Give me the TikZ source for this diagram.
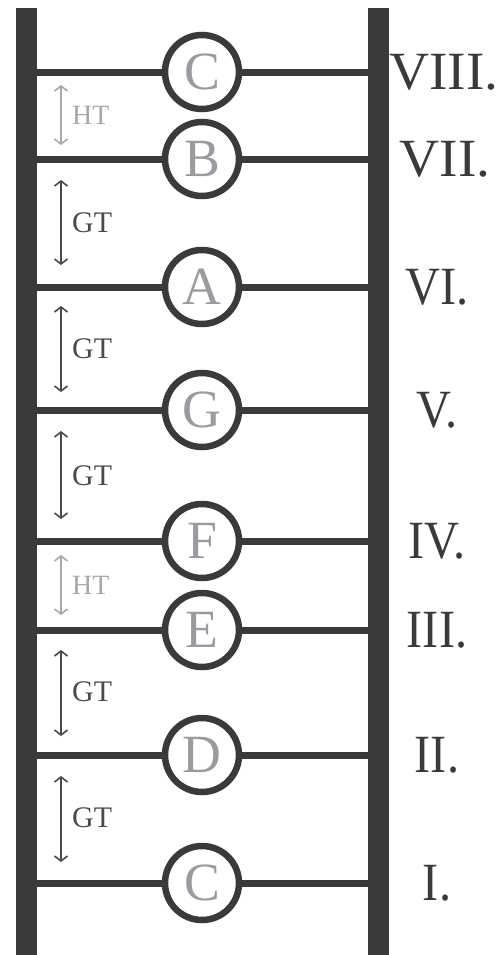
\documentclass[tikz,border=0pt]{standalone}
\usepackage{fontspec}
\setmainfont{Liberation Serif}
\usetikzlibrary{arrows.meta}
\definecolor{rail}{HTML}{3A3A3C}
\definecolor{lettergray}{HTML}{9A9B9E}
\definecolor{htgray}{HTML}{A8A8AA}
\definecolor{gtdark}{HTML}{4A4A4C}
\tikzset{
  railline/.style={draw=rail, line width=21bp},
  rungline/.style={draw=rail, line width=7bp},
  tone/.style={circle, draw=rail, fill=white, line width=6.5bp, minimum size=74bp, inner sep=0pt,
     text=lettergray, font=\fontsize{54}{54}\selectfont},
  numlabel/.style={text=rail, inner sep=0pt, font=\fontsize{54}{54}\selectfont},
  gtarrow/.style={draw=gtdark, line width=1.6bp, {Straight Barb[length=5bp,width=13bp]}-{Straight Barb[length=5bp,width=13bp]}},
  htarrow/.style={draw=htgray, line width=1.6bp, {Straight Barb[length=5bp,width=13bp]}-{Straight Barb[length=5bp,width=13bp]}},
  gtlabel/.style={anchor=west, inner sep=0pt, text=gtdark, font=\fontsize{30}{30}\selectfont},
  htlabel/.style={anchor=west, inner sep=0pt, text=htgray, font=\fontsize{28}{28}\selectfont},
}
\begin{document}
\begin{tikzpicture}[x=1bp,y=-1bp]
\useasboundingbox (0,0) rectangle (501,955);
% rails
\coordinate (LT) at (26.5,8);
\coordinate (LB) at (26.5,955);
\coordinate (RT) at (378,8);
\coordinate (RB) at (378,955);
\draw[railline] (LT) -- (LB);
\draw[railline] (RT) -- (RB);
% rungs
\foreach \i/\y/\t/\r/\lx/\sx in {8/72/C/VIII./444/1.03,7/159/B/VII./445/1.03,6/287/A/VI./437/0.9,5/410/G/V./437/0.9,4/541/F/IV./437/0.9,3/630/E/III./437/0.9,2/755/D/II./437/0.9,1/883/C/I./437/0.9}{
  \coordinate (L\i) at (37,\y);
  \coordinate (R\i) at (368,\y);
  \draw[rungline] (L\i) -- (R\i);
  \node[tone] (n\i) at (202,\y) {\t};
  \node[numlabel, xscale=\sx] (lab\i) at (\lx,\y) {\r};
}
% intervals
\coordinate (h1t) at (61,85);  \coordinate (h1b) at (61,145);
\draw[htarrow] (h1t) -- (h1b);
\node[htlabel] (h1l) at (72,115) {HT};
\coordinate (g1t) at (61,180); \coordinate (g1b) at (61,265);
\draw[gtarrow] (g1t) -- (g1b);
\node[gtlabel] (g1l) at (72,223) {GT};
\coordinate (g2t) at (61,306); \coordinate (g2b) at (61,392);
\draw[gtarrow] (g2t) -- (g2b);
\node[gtlabel] (g2l) at (72,349) {GT};
\coordinate (g3t) at (61,431); \coordinate (g3b) at (61,519);
\draw[gtarrow] (g3t) -- (g3b);
\node[gtlabel] (g3l) at (72,476) {GT};
\coordinate (h2t) at (61,555); \coordinate (h2b) at (61,615);
\draw[htarrow] (h2t) -- (h2b);
\node[htlabel] (h2l) at (72,585) {HT};
\coordinate (g4t) at (61,650); \coordinate (g4b) at (61,736);
\draw[gtarrow] (g4t) -- (g4b);
\node[gtlabel] (g4l) at (72,692) {GT};
\coordinate (g5t) at (61,776); \coordinate (g5b) at (61,862);
\draw[gtarrow] (g5t) -- (g5b);
\node[gtlabel] (g5l) at (72,818) {GT};
\end{tikzpicture}
\end{document}
